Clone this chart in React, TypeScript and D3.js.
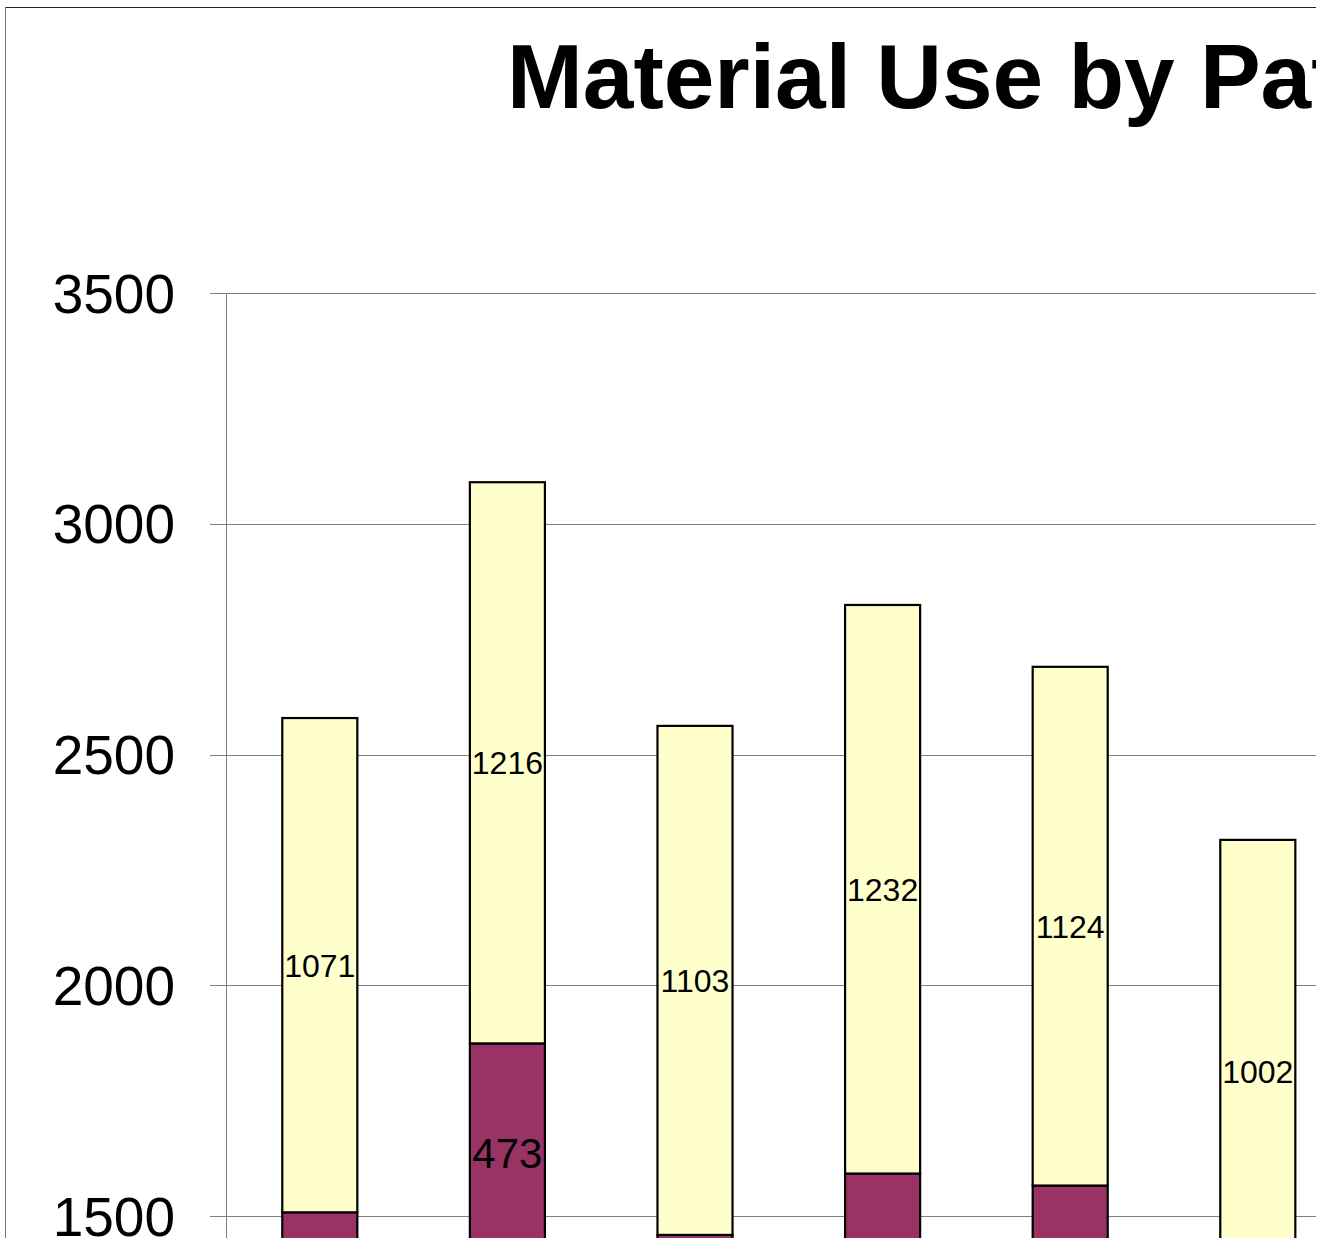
import React from "react";
import * as d3 from "d3";

const categories = ["Pattern 1", "Pattern 2", "Pattern 3", "Pattern 4", "Pattern 5", "Pattern 6", "Pattern 7"];
// hidden lowest series (below the visible crop; estimated)
const baseValues = [1098, 1401, 1064, 1147, 1136, 933, 1000];
// purple series
const purpleValues = [410, 473, 395, 445, 430, 380, 400];
// yellow series
const yellowValues = [1071, 1216, 1103, 1232, 1124, 1002, 1050];
const yTicks = [0, 500, 1000, 1500, 2000, 2500, 3000, 3500];
const titleText = "Material Use by Pattern";

const W = 1322;
const H = 1238;
const CLIP_W = 1316;

export default function App() {
  const plotLeft = 226;
  const step = 187.6;
  const x = d3
    .scaleBand<string>()
    .domain(categories)
    .range([plotLeft, plotLeft + step * categories.length])
    .paddingInner(0.6)
    .paddingOuter(0.3);
  const y = d3.scaleLinear().domain([0, 3500]).range([1908.25, 293]);

  const rows = categories.map((c, i) => ({
    c,
    base: baseValues[i],
    purple: purpleValues[i],
    yellow: yellowValues[i],
  }));
  const stack = d3.stack<any>().keys(["base", "purple", "yellow"])(rows);
  const fills: Record<string, string> = { base: "#9999FF", purple: "#993366", yellow: "#FFFFCC" };
  const labelSize: Record<string, number> = { base: 32, purple: 42, yellow: 32 };

  return (
    <svg
      width={W}
      height={H}
      style={{ position: "absolute", left: 0, top: 0, background: "#fff" }}
      fontFamily="'Liberation Sans', Arial, sans-serif"
    >
      <defs>
        <clipPath id="crop">
          <rect x={0} y={0} width={CLIP_W} height={H} />
        </clipPath>
      </defs>
      <rect x={0} y={0} width={W} height={H} fill="#fff" />
      <g clipPath="url(#crop)">
        <line x1={5.5} y1={7.5} x2={W} y2={7.5} stroke="#222" strokeWidth={1} />
        <line x1={5.5} y1={7.5} x2={5.5} y2={H} stroke="#777" strokeWidth={1} />
        <text x={507} y={108} fontSize={91} fontWeight="bold" fill="#000">
          {titleText}
        </text>
        {yTicks.map((t) => (
          <g key={t}>
            <line x1={plotLeft} x2={W + 200} y1={Math.round(y(t)) + 0.5} y2={Math.round(y(t)) + 0.5} stroke="#808080" strokeWidth={1} />
            <line x1={210} x2={plotLeft} y1={Math.round(y(t)) + 0.5} y2={Math.round(y(t)) + 0.5} stroke="#808080" strokeWidth={1} />
            <text x={175} y={y(t) + 19.5} fontSize={55} textAnchor="end" fill="#000">
              {t}
            </text>
          </g>
        ))}
        <line x1={plotLeft + 0.5} x2={plotLeft + 0.5} y1={y(3500)} y2={y(0)} stroke="#808080" strokeWidth={1} />
        {stack.map((s) => (
          <g key={s.key}>
            {s.map((d: any, i: number) => {
              const bx = x(categories[i])!;
              const bw = x.bandwidth();
              const y0 = y(d[0]);
              const y1 = y(d[1]);
              return (
                <rect key={i} x={bx} y={y1} width={bw} height={y0 - y1} fill={fills[s.key]} stroke="#000" strokeWidth={2.2} />
              );
            })}
          </g>
        ))}
        {stack.map((s) => (
          <g key={"l" + s.key}>
            {s.map((d: any, i: number) => {
              const bx = x(categories[i])! + x.bandwidth() / 2;
              const cy = (y(d[0]) + y(d[1])) / 2;
              const fs = labelSize[s.key];
              return (
                <text key={i} x={bx} y={cy + fs * 0.358} fontSize={fs} textAnchor="middle" fill="#000">
                  {d[1] - d[0]}
                </text>
              );
            })}
          </g>
        ))}
      </g>
    </svg>
  );
}
